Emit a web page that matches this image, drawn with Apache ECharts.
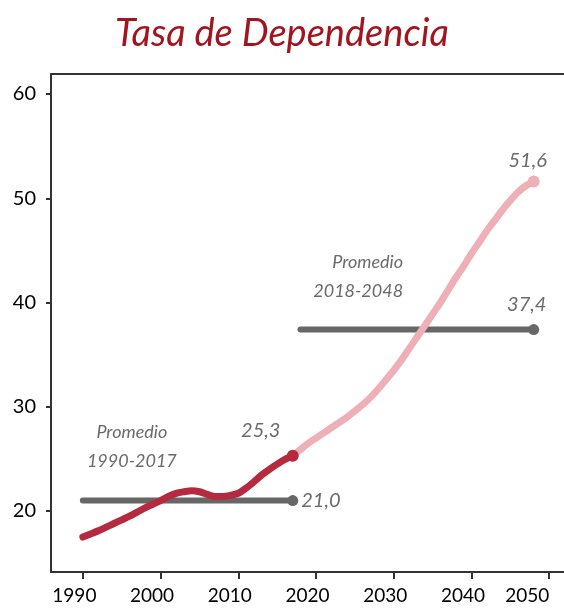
<!DOCTYPE html>
<html lang="es">
<head>
<meta charset="UTF-8" />
<title>Tasa de Dependencia</title>
<script src="https://cdn.jsdelivr.net/npm/echarts@6/dist/echarts.min.js"></script>
<style type="text/css">
html,body{margin:0;padding:0;background:#fff;}
#main{width:564px;height:608px;}
</style>
</head>
<body>
<div id="main"></div>
<script type="text/javascript">
// datos
var years1 = [1990,1991,1992,1993,1994,1995,1996,1997,1998,1999,2000,2001,2002,2003,2004,2005,2006,2007,2008,2009,2010,2011,2012,2013,2014,2015,2016,2017];
var tasa1 = [17.5,17.8,18.1,18.45,18.8,19.15,19.5,19.9,20.3,20.65,21.0,21.4,21.7,21.85,21.95,21.85,21.6,21.4,21.4,21.5,21.7,22.2,22.8,23.45,24.0,24.5,24.95,25.3];
var years2 = [2017,2018,2019,2020,2021,2022,2023,2024,2025,2026,2027,2028,2029,2030,2031,2032,2033,2034,2035,2036,2037,2038,2039,2040,2041,2042,2043,2044,2045,2046,2047,2048];
var tasa2 = [25.3,25.9,26.5,27.0,27.5,28.0,28.5,29.0,29.6,30.2,30.9,31.7,32.6,33.5,34.5,35.6,36.7,37.8,38.9,40.0,41.2,42.4,43.5,44.7,45.8,46.9,47.9,48.9,49.8,50.6,51.2,51.6];
var promedio1 = {desde:1990, hasta:2017, valor:21.0};
var promedio2 = {desde:2018, hasta:2048, valor:37.4};
var xTicks = [1990,2000,2010,2020,2030,2040,2050];
var yTicks = [20,30,40,50,60];

function pares(xs, ys){
	var out = [];
	for(var i=0;i<xs.length;i++){
		out.push([xs[i], ys[i]]);
	}
	return out;
}
function coma(v){
	return v.toFixed(1).replace('.', ',');
}
// solo se dibuja el punto final
function ultimo(n, size){
	return function(v, p){ return p.dataIndex === n - 1 ? size : 0; };
}

var gris = '#676767';
var txtGris = '#6a6a6a';
var fuente = 'Lato';

var myChart = echarts.init(document.getElementById('main'));
myChart.setOption({
	animation:false,
	title:{
		text:'Tasa de Dependencia',
		left:110,
		top:10,
		textStyle:{color:'#a3141e', fontStyle:'italic', fontWeight:'normal', fontSize:38, fontFamily:fuente}
	},
	grid:{left:51, right:0, top:74, bottom:36},
	xAxis:[
		{
			type:'value', min:1985.9, max:2051.9, position:'bottom',
			axisLine:{show:true, lineStyle:{color:'#333', width:2}},
			axisTick:{show:true, length:7, customValues:xTicks, lineStyle:{color:'#333', width:2}},
			axisLabel:{
				customValues:xTicks, margin:14, color:'#000', fontSize:19, fontFamily:fuente,
				formatter:function(v){ return v === 2050 ? '{b|' + v + '}' : '{a|' + v + '}'; },
				rich:{
					a:{padding:[0,17,0,0], fontSize:19, fontFamily:fuente, color:'#000'},
					b:{padding:[0,44,0,0], fontSize:19, fontFamily:fuente, color:'#000'}
				}
			},
			splitLine:{show:false}
		},
		{
			type:'value', min:1985.9, max:2051.9, position:'top',
			axisLine:{show:true, lineStyle:{color:'#333', width:2}},
			axisTick:{show:false}, axisLabel:{show:false}, splitLine:{show:false}
		}
	],
	yAxis:{
		type:'value', min:14.15, max:61.92,
		axisLine:{show:true, lineStyle:{color:'#333', width:2}},
		axisTick:{show:true, length:5, customValues:yTicks, lineStyle:{color:'#333', width:2}},
		axisLabel:{customValues:yTicks, margin:15, color:'#000', fontSize:20, fontFamily:fuente},
		splitLine:{show:false}
	},
	series:[
		{
			name:'Promedio 1990-2017',
			type:'line',
			data:pares([promedio1.desde, promedio1.hasta], [promedio1.valor, promedio1.valor]),
			lineStyle:{color:gris, width:6, cap:'round'},
			itemStyle:{color:gris},
			symbol:'circle', symbolSize:ultimo(2, 11), showAllSymbol:true,
			label:{show:true, position:'right', distance:3, color:txtGris, fontStyle:'italic', fontSize:20, fontFamily:fuente,
				formatter:function(p){ return p.dataIndex === 1 ? coma(p.value[1]) : ''; }},
			markPoint:{
				symbolSize:0,
				data:[{name:'Promedio\n1990-2017', coord:[1996.3, 26.15]}],
				label:{show:true, position:'inside', formatter:function(p){ return p.name; }, color:txtGris,
					fontStyle:'italic', fontSize:18, lineHeight:29, fontFamily:fuente}
			},
			z:2
		},
		{
			name:'Promedio 2018-2048',
			type:'line',
			data:pares([promedio2.desde, promedio2.hasta], [promedio2.valor, promedio2.valor]),
			lineStyle:{color:gris, width:6, cap:'round'},
			itemStyle:{color:gris},
			symbol:'circle', symbolSize:ultimo(2, 11), showAllSymbol:true,
			label:{show:true, position:'inside', offset:[-7,-25], color:txtGris, fontStyle:'italic', fontSize:20, fontFamily:fuente,
				formatter:function(p){ return p.dataIndex === 1 ? coma(p.value[1]) : ''; }},
			markPoint:{
				symbolSize:0,
				data:[{name:'Promedio\n2018-2048', coord:[2031.2, 42.5]}],
				label:{show:true, position:'inside', align:'right', formatter:function(p){ return p.name; }, color:txtGris,
					fontStyle:'italic', fontSize:18, lineHeight:29, fontFamily:fuente}
			},
			z:2
		},
		{
			name:'Proyección',
			type:'line',
			smooth:0.3,
			data:pares(years2, tasa2),
			lineStyle:{color:'#eeb0b6', width:7, cap:'round'},
			itemStyle:{color:'#eeb0b6'},
			symbol:'circle', symbolSize:ultimo(years2.length, 12), showAllSymbol:true,
			label:{show:true, position:'inside', offset:[-6,-21], color:txtGris, fontStyle:'italic', fontSize:20, fontFamily:fuente,
				formatter:function(p){ return p.dataIndex === years2.length - 1 ? coma(p.value[1]) : ''; }},
			z:3
		},
		{
			name:'Tasa de dependencia',
			type:'line',
			smooth:0.3,
			data:pares(years1, tasa1),
			lineStyle:{color:'#b52a3e', width:7, cap:'round'},
			itemStyle:{color:'#b52a3e'},
			symbol:'circle', symbolSize:ultimo(years1.length, 12), showAllSymbol:true,
			label:{show:true, position:'inside', offset:[-32,-25], color:txtGris, fontStyle:'italic', fontSize:20, fontFamily:fuente,
				formatter:function(p){ return p.dataIndex === years1.length - 1 ? coma(p.value[1]) : ''; }},
			z:4
		}
	]
});
</script>
</body>
</html>
